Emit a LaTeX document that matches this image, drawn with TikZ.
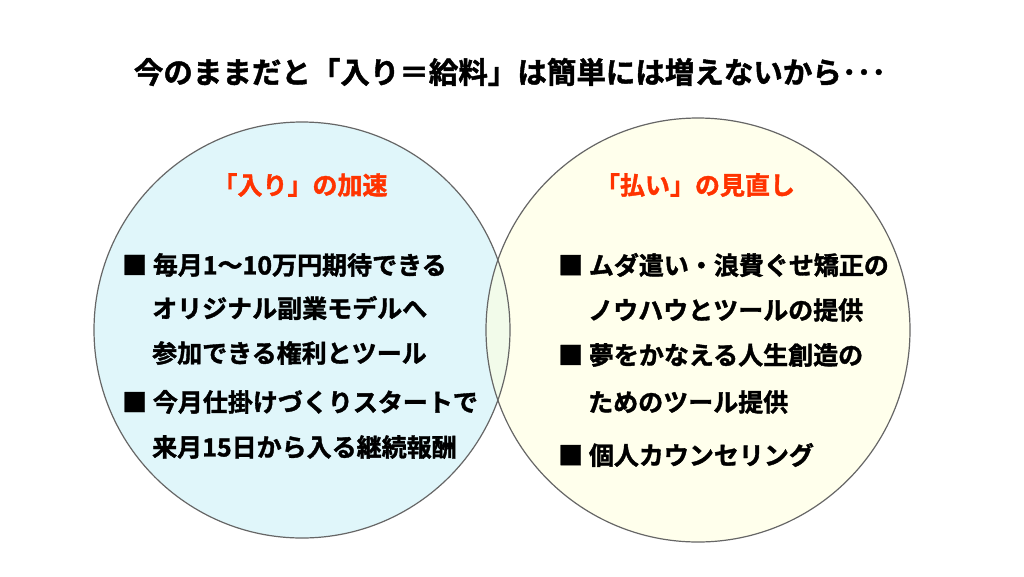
\documentclass[tikz,border=0pt]{standalone}
\usepackage{fontspec}
\newfontfamily\jp[FakeBold=1.5]{Noto Sans CJK JP Bold}
\definecolor{leftc}{HTML}{DDF6FA}
\definecolor{rightc}{HTML}{FFFFE0}
\definecolor{headc}{HTML}{FF3300}
\begin{document}
\begin{tikzpicture}[x=1pt,y=-1pt,
  body/.style={anchor=west,inner sep=0pt,font=\jp\fontsize{25}{28}\selectfont},
  head/.style={inner sep=0pt,text=headc,font=\jp\fontsize{25}{28}\selectfont},
  circ/.style={draw=gray!80!black,line width=1.2pt}]
\useasboundingbox (0,0) rectangle (1024,576);
\fill[white] (0,0) rectangle (1024,576);
\node[inner sep=0pt,font=\jp\fontsize{29.5}{32}\selectfont] (title) at (510,72) {今のままだと「入り＝給料」は簡単には増えないから･･･};
\fill[leftc,opacity=0.9] (302,330) circle (208);
\fill[rightc,opacity=0.6] (698,330) circle (212);
\draw[circ] (302,330) circle (208);
\draw[circ] (698,330) circle (212);
\node[head] (h1) at (300,185) {「入り」の加速};
\node[head] (h2) at (695,185) {「払い」の見直し};
\node[body] (l1) at (122,265) {■\ 毎月1～10万円期待できる};
\node[body] (l2) at (152,308) {オリジナル副業モデルへ};
\node[body] (l3) at (152,353) {参加できる権利とツール};
\node[body] (l4) at (122,402) {■\ 今月仕掛けづくりスタートで};
\node[body] (l5) at (152,447) {来月15日から入る継続報酬};
\node[body] (r1) at (558,265) {■\ ムダ遣い・浪費ぐせ矯正の};
\node[body] (r2) at (588,310) {ノウハウとツールの提供};
\node[body] (r3) at (558,355) {■\ 夢をかなえる人生創造の};
\node[body] (r4) at (588,402) {ためのツール提供};
\node[body] (r5) at (558,455) {■\ 個人カウンセリング};
\end{tikzpicture}
\end{document}
